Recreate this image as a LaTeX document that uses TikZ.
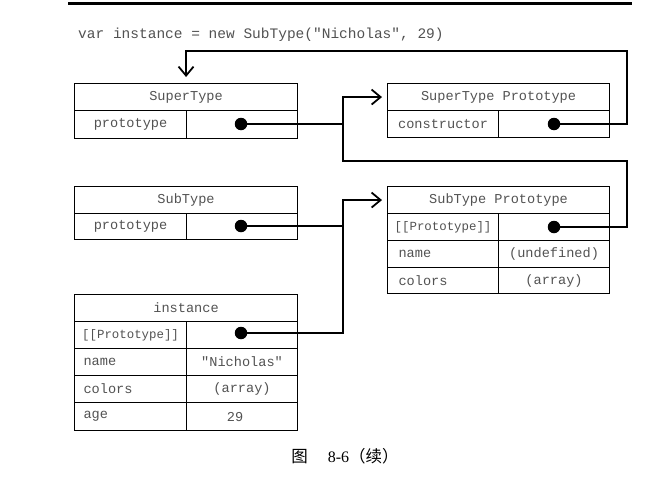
\documentclass[tikz,border=0pt]{standalone}
\usepackage{fontspec}
\newfontfamily\mono{Liberation Mono}
\newfontfamily\cjk{Noto Sans CJK SC}
\newfontfamily\ser{Liberation Serif}
\usetikzlibrary{arrows.meta}
\begin{document}
\begin{tikzpicture}[x=1pt,y=-1pt,
  cell/.style={draw, line width=1.1pt, inner sep=0pt, anchor=north west,
    font=\mono\fontsize{13.6}{14}\selectfont, text=black!68},
  narrow/.style={font=\mono\fontsize{12.4}{13}\selectfont},
  dotn/.style={circle, fill=black, inner sep=0pt, minimum size=12.5pt},
  conn/.style={line width=1.8pt},
  arr/.style={conn, -{Straight Barb[length=9pt,width=15pt]}}
]
\useasboundingbox (0,0) rectangle (658,482);
\draw[line width=3pt] (68,3.5) -- (632,3.5);
\node[anchor=west, font=\mono\fontsize{14.5}{15}\selectfont, text=black!68, inner sep=0pt] (code) at (78,35) {var instance = new SubType("Nicholas", 29)};

% SuperType
\node[cell, minimum width=223pt, minimum height=27pt] (st) at (74,83) {SuperType};
\node[cell, minimum width=112pt, minimum height=28pt] (stk) at (74,110) {prototype};
\node[cell, minimum width=111pt, minimum height=28pt] (stv) at (186,110) {};
\node[dotn] (std) at (241,124) {};

% SuperType Prototype
\node[cell, minimum width=222pt, minimum height=27pt] (sp) at (387,83) {SuperType Prototype};
\node[cell, minimum width=111pt, minimum height=27pt] (spk) at (387,110) {constructor};
\node[cell, minimum width=111pt, minimum height=27pt] (spv) at (498,110) {};
\node[dotn] (spd) at (554,124) {};

% SubType
\node[cell, minimum width=223pt, minimum height=27pt] (sub) at (74,186) {SubType};
\node[cell, minimum width=112pt, minimum height=26pt] (subk) at (74,213) {prototype};
\node[cell, minimum width=111pt, minimum height=26pt] (subv) at (186,213) {};
\node[dotn] (subd) at (241,226) {};

% SubType Prototype
\node[cell, minimum width=222pt, minimum height=27pt] (subp) at (387,186) {SubType Prototype};
\node[cell, narrow, minimum width=111pt, minimum height=27pt] (subpk1) at (387,213) {[[Prototype]]};
\node[cell, minimum width=111pt, minimum height=27pt] (subpv1) at (498,213) {};
\node[dotn] (subpd) at (554,227) {};
\node[cell, align=left, inner xsep=11pt, text width=89pt, minimum height=27pt] (subpk2) at (387,240) {name};
\node[cell, minimum width=111pt, minimum height=27pt] (subpv2) at (498,240) {(undefined)};
\node[cell, align=left, inner xsep=11pt, text width=89pt, minimum height=26pt] (subpk3) at (387,267) {colors};
\node[cell, minimum width=111pt, minimum height=26pt] (subpv3) at (498,267) {(array)};

% instance
\node[cell, minimum width=223pt, minimum height=27pt] (inst) at (74,294) {instance};
\node[cell, narrow, minimum width=112pt, minimum height=27pt] (ik1) at (74,321) {[[Prototype]]};
\node[cell, minimum width=111pt, minimum height=27pt] (iv1) at (186,321) {};
\node[dotn] (instd) at (241,333) {};
\node[cell, align=left, inner xsep=9pt, text width=94pt, minimum height=27pt] (ik2) at (74,348) {name};
\node[cell, minimum width=111pt, minimum height=27pt] (iv2) at (186,348) {"Nicholas"};
\node[cell, align=left, inner xsep=9pt, text width=94pt, minimum height=27pt] (ik3) at (74,375) {colors};
\node[cell, minimum width=111pt, minimum height=27pt] (iv3) at (186,375) {(array)};
\node[cell, align=left, inner xsep=9pt, text width=94pt, minimum height=28pt] (ik4) at (74,402) {age};
\node[cell, minimum width=111pt, minimum height=28pt] (iv4) at (186,402) {\hspace*{-14pt}29};

% connectors
\coordinate (r1) at (627,51);
\coordinate (r2) at (627,161);
\coordinate (j1) at (343,161);
\draw[arr] (spd) -| (r1) -| ([yshift=6pt]st.north);
\draw[arr] (subpd) -| (r2) -- (j1) |- ([xshift=-5pt]sp.west);
\draw[conn] (std) -- (std -| j1);
\draw[arr] (instd) -| (j1 |- subp.west) -- ([xshift=-5pt]subp.west);
\draw[conn] (subd) -- (subd -| j1);

% caption
\node[inner sep=0pt] (cap) at (345,456) {{\cjk\fontsize{16.5}{18}\selectfont 图}\hspace{20pt}{\ser\fontsize{16}{18}\selectfont 8-6}{\cjk\fontsize{16.5}{18}\selectfont （续）}};
\end{tikzpicture}
\end{document}
